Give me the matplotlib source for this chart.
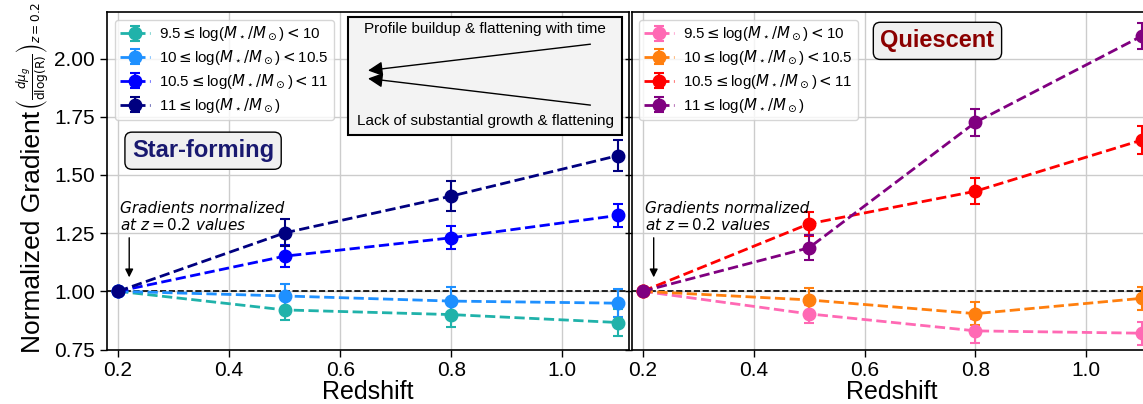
import matplotlib
matplotlib.use("Agg")
import matplotlib.pyplot as plt
from matplotlib.patches import Rectangle

plt.rcParams['font.family'] = ['Liberation Sans', 'DejaVu Sans']
plt.rcParams['mathtext.fontset'] = 'dejavusans'

redshift = [0.2, 0.5, 0.8, 1.1]

mass_labels = [
    r'9.5$\leq$log($M_\star/M_\odot$)$<$10',
    r'10$\leq$log($M_\star/M_\odot$)$<$10.5',
    r'10.5$\leq$log($M_\star/M_\odot$)$<$11',
    r'11$\leq$log($M_\star/M_\odot$)',
]

# star-forming galaxies
sf_colors = ['lightseagreen', 'dodgerblue', 'blue', 'navy']
sf_grad = [
    [1.0, 0.92, 0.90, 0.866],
    [1.0, 0.98, 0.958, 0.949],
    [1.0, 1.151, 1.23, 1.326],
    [1.0, 1.251, 1.409, 1.583],
]
sf_err = [
    [0.0, 0.045, 0.055, 0.058],
    [0.0, 0.052, 0.06, 0.06],
    [0.0, 0.047, 0.05, 0.05],
    [0.0, 0.058, 0.064, 0.065],
]

# quiescent galaxies
q_colors = ['hotpink', 'tab:orange', 'red', 'purple']
q_grad = [
    [1.0, 0.903, 0.83, 0.82],
    [1.0, 0.963, 0.904, 0.97],
    [1.0, 1.29, 1.43, 1.65],
    [1.0, 1.187, 1.726, 2.097],
]
q_err = [
    [0.0, 0.04, 0.05, 0.05],
    [0.0, 0.05, 0.05, 0.05],
    [0.0, 0.052, 0.055, 0.06],
    [0.0, 0.053, 0.057, 0.057],
]

W, H = 1143, 404
fig = plt.figure(figsize=(W / 100, H / 100), dpi=100)
ax1 = fig.add_axes([107 / W, 54.5 / H, 522 / W, 337.5 / H])
ax2 = fig.add_axes([631.5 / W, 54.5 / H, 521.5 / W, 337.5 / H])


def draw_panel(ax, grads, errs, colors):
    ax.axhline(1.0, color='k', ls='--', lw=1.2, zorder=1)
    for g, e, c, lab in zip(grads, errs, colors, mass_labels):
        ax.errorbar(redshift, g, yerr=e, fmt='o--', color=c, ms=9, lw=2,
                    elinewidth=1.5, capsize=3.5, capthick=1.5, label=lab, zorder=3)
    ax.set_xlim(0.18, 1.12)
    ax.set_ylim(0.75, 2.2)
    ax.set_xticks([0.2, 0.4, 0.6, 0.8, 1.0])
    ax.set_yticks([0.75, 1.0, 1.25, 1.5, 1.75, 2.0])
    ax.grid(True, color='#cccccc', lw=1.0, zorder=0)
    ax.set_axisbelow(True)
    ax.tick_params(labelsize=15, length=5, width=1)
    ax.set_xlabel('Redshift', fontsize=18, labelpad=0)
    for s in ax.spines.values():
        s.set_linewidth(1.2)
    leg = ax.legend(loc='upper left', fontsize=10.8, borderaxespad=0.5,
                    borderpad=0.35, handletextpad=0.6, handlelength=2.0,
                    labelspacing=0.35, framealpha=0.8)
    leg.set_zorder(5)
    ax.text(0.204, 1.25, 'Gradients normalized\nat $z=0.2$ values', fontsize=11,
            fontstyle='italic', family='DejaVu Sans', ha='left', va='bottom',
            linespacing=1.05)
    ax.annotate('', xy=(0.22, 1.06), xytext=(0.22, 1.23),
                arrowprops=dict(arrowstyle='-|>', color='k', lw=1.0,
                                mutation_scale=12, shrinkA=0, shrinkB=0))


draw_panel(ax1, sf_grad, sf_err, sf_colors)
draw_panel(ax2, q_grad, q_err, q_colors)
ax2.tick_params(labelleft=False)

# y-axis title: words plus a compact math part
fig.text(33 / W, 1 - 232 / H, 'Normalized Gradient', rotation=90, fontsize=19,
         ha='center', va='center')
fig.text(33 / W, 1 - 110 / H,
         r'$\left(\frac{d\mu_g}{\mathrm{dlog(R)}}\right)_{z=0.2}$',
         rotation=90, fontsize=12.5, ha='center', va='bottom')

ax1.text(0.353, 1.604, 'Star-forming', fontsize=17, fontweight='bold',
         color='midnightblue', ha='center', va='center', zorder=7,
         bbox=dict(boxstyle='round,pad=0.3', fc='#f0f0f0', ec='k', lw=1.0))
ax2.text(0.7315, 2.076, 'Quiescent', fontsize=17, fontweight='bold',
         color='darkred', ha='center', va='center', zorder=7,
         bbox=dict(boxstyle='round,pad=0.3', fc='#f0f0f0', ec='k', lw=1.0))

# inset explaining the two evolutionary tracks
ax1.add_patch(Rectangle((0.614, 1.673), 1.108 - 0.614, 2.179 - 1.673,
                        fc='#f3f3f3', ec='k', lw=1.5, zorder=6))
ax1.text(0.861, 2.125, 'Profile buildup & flattening with time', fontsize=11,
         ha='center', va='center', zorder=7)
ax1.text(0.861, 1.731, 'Lack of substantial growth & flattening', fontsize=11,
         ha='center', va='center', zorder=7)
for start, tip in [((1.0505, 2.0617), (0.650, 1.9486)),
                   ((1.0505, 1.800), (0.650, 1.9143))]:
    ax1.annotate('', xy=tip, xytext=start, zorder=7,
                 arrowprops=dict(arrowstyle='-|>', color='k', lw=1.0,
                                 mutation_scale=22, shrinkA=0, shrinkB=0))

fig.savefig('out.png', dpi=100)
